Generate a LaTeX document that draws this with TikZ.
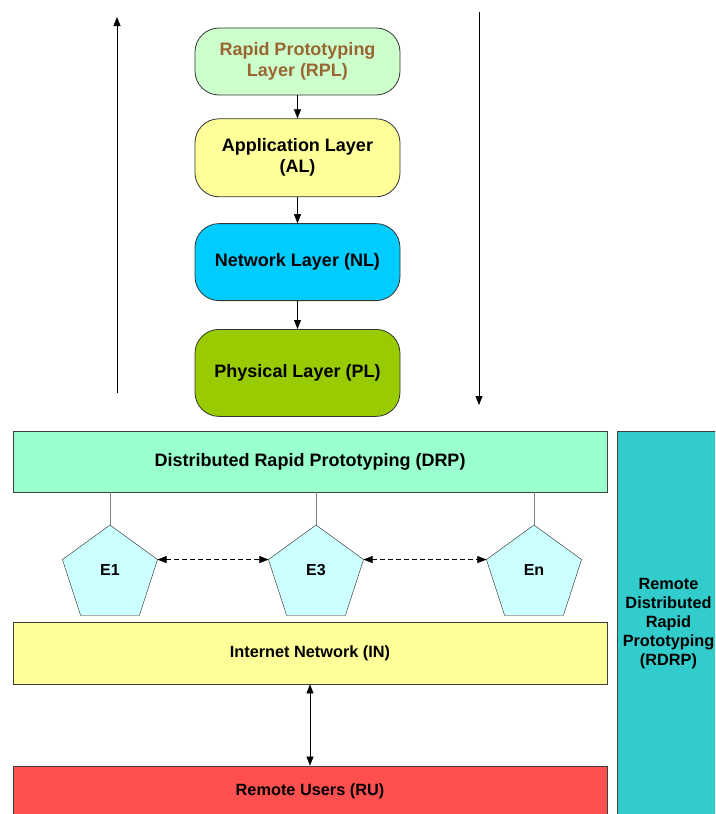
\documentclass[tikz,border=0pt]{standalone}
\usepackage{fontspec}
\setmainfont{Liberation Sans}
\usetikzlibrary{arrows.meta, positioning, shapes.geometric}
\definecolor{rplfill}{HTML}{CCFFCC}
\definecolor{rpltext}{HTML}{996633}
\definecolor{alfill}{HTML}{FFFF99}
\definecolor{nlfill}{HTML}{00CCFF}
\definecolor{plfill}{HTML}{99CC00}
\definecolor{drpfill}{HTML}{99FFCC}
\definecolor{edgefill}{HTML}{CCFFFF}
\definecolor{rufill}{HTML}{FF5050}
\definecolor{rdrpfill}{HTML}{33CCCC}

\begin{document}
\begin{tikzpicture}[x=1pt, y=-1pt,
  layer/.style={draw=black!80, line width=0.8pt, rounded corners=24pt, minimum width=205pt,
    inner sep=0pt, align=center, font=\fontsize{18}{21}\selectfont\bfseries},
  band/.style={draw=black!75, line width=0.8pt, minimum width=594pt, inner sep=0pt,
    align=center, font=\fontsize{16.3}{19}\selectfont\bfseries},
  edgenode/.style={regular polygon, regular polygon sides=5, minimum size=100pt,
    inner sep=0pt, outer sep=0pt, draw=black!85, fill=edgefill,
    font=\fontsize{16}{19}\selectfont\bfseries},
  flow/.style={-{Triangle[length=9pt,width=7pt]}, black},
  twoway/.style={{Triangle[length=9pt,width=7pt]}-{Triangle[length=9pt,width=7pt]}, black}]

  \useasboundingbox (0,0) rectangle (715,814);
  \clip (0,0) rectangle (715,814);

  % protocol stack
  \node[layer, fill=rplfill, text=rpltext, minimum height=67pt] (rpl) at (297.5,61.5)
    {Rapid Prototyping\\Layer (RPL)};
  \node[layer, fill=alfill, minimum height=78pt, below=23pt of rpl] (al)
    {Application Layer\\(AL)};
  \node[layer, fill=nlfill, minimum height=77pt, below=26pt of al] (nl)
    {Network Layer (NL)};
  \node[layer, fill=plfill, minimum height=87pt, below=28pt of nl] (pl)
    {Physical Layer (PL)};

  \draw[flow] (rpl) -- (al);
  \draw[flow] (al) -- (nl);
  \draw[flow] (nl) -- (pl);

  % side arrows
  \coordinate (upstart) at (117,393);
  \coordinate (upend) at (117,17);
  \coordinate (downstart) at (479,12);
  \coordinate (downend) at (479,405);
  \draw[flow] (upstart) -- (upend);
  \draw[flow] (downstart) -- (downend);

  % distributed part
  \node[band, fill=drpfill, minimum height=61pt, font=\fontsize{18}{21}\selectfont\bfseries]
    (drp) at (310,461.5) {Distributed Rapid Prototyping (DRP)};
  \node[edgenode] (e1) at (110,575) {\raisebox{10pt}{E1}};
  \node[edgenode] (e3) at (316,575) {\raisebox{10pt}{E3}};
  \node[edgenode] (en) at (534,575) {\raisebox{10pt}{En}};
  \node[band, fill=alfill, minimum height=62pt] (in) at (310,653)
    {Internet Network (IN)};
  \node[band, fill=rufill, minimum height=50pt] (ru) at (310,791)
    {Remote Users (RU)};
  \node[draw=black!75, line width=0.8pt, fill=rdrpfill, minimum width=103pt,
    minimum height=385pt, inner sep=0pt, align=center,
    font=\fontsize{16.3}{19}\selectfont\bfseries] (rdrp) at (668.5,623.5)
    {Remote\\Distributed\\Rapid\\Prototyping\\(RDRP)};

  \foreach \e in {e1,e3,en}
    \draw[gray] (drp.south -| \e.corner 1) -- (\e.corner 1);
  \draw[twoway, dash pattern=on 5pt off 3pt] (e1.corner 5) -- (e3.corner 2);
  \draw[twoway, dash pattern=on 5pt off 3pt] (e3.corner 5) -- (en.corner 2);
  \draw[twoway] (in) -- (ru);
\end{tikzpicture}
\end{document}
